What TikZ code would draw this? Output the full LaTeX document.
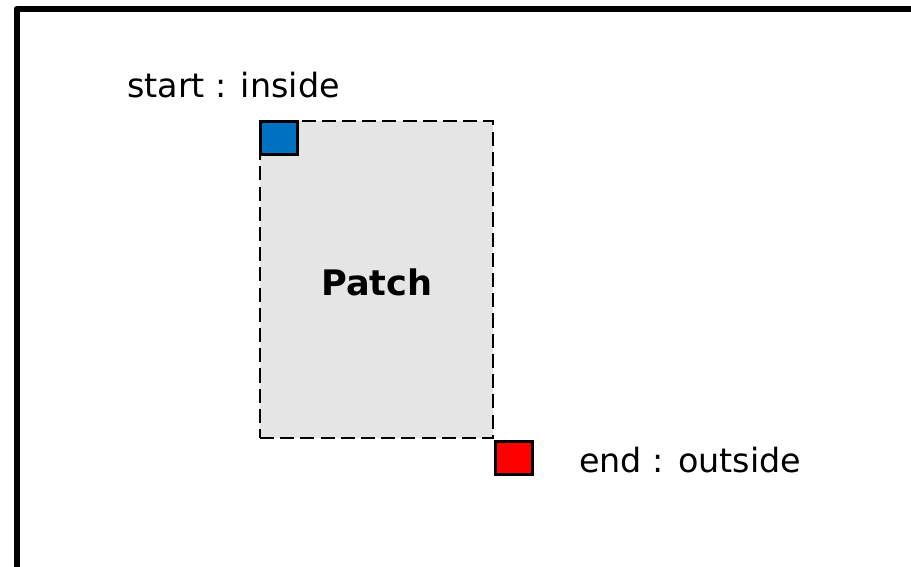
\documentclass[tikz,border=0pt]{standalone}
\usepackage{fontspec}
\setmainfont{DejaVu Sans}
\usepackage{tikz}

\definecolor{patchgray}{HTML}{E5E5E5}
\definecolor{startblue}{HTML}{0070C0}

\begin{document}
\begin{tikzpicture}[x=0.02cm,y=-0.02cm,
  marker/.style={rectangle,draw,line width=1.6pt,minimum width=37*0.02cm,minimum height=33*0.02cm,inner sep=0pt}]
\useasboundingbox (0,0) rectangle (911,566);
\begin{scope}
\clip (0,0) rectangle (911,566);
\draw [line width=3.9pt,line join=round] (17,580) -- (17,9) -- (930,9);
\end{scope}
\node (patch) at (376.5,279.5) [rectangle,draw,dash pattern=on 8pt off 3.5pt,line width=1.3pt,fill=patchgray,
  minimum width=233*0.02cm,minimum height=317*0.02cm] {};
\node (label) at (377,282) [font=\bfseries\fontsize{20}{24}\selectfont] {Patch};
\node (start) at (patch.north west) [marker,fill=startblue,anchor=north west] {};
\node (end)   at (patch.south east) [marker,fill=red,anchor=north west,yshift=-1*0.02cm] {};
\node (startlbl) at (121,85) [anchor=west,font=\fontsize{19}{23}\selectfont] {start : inside};
\node (endlbl)   at (573,460) [anchor=west,font=\fontsize{19}{23}\selectfont] {end : outside};
\end{tikzpicture}
\end{document}
